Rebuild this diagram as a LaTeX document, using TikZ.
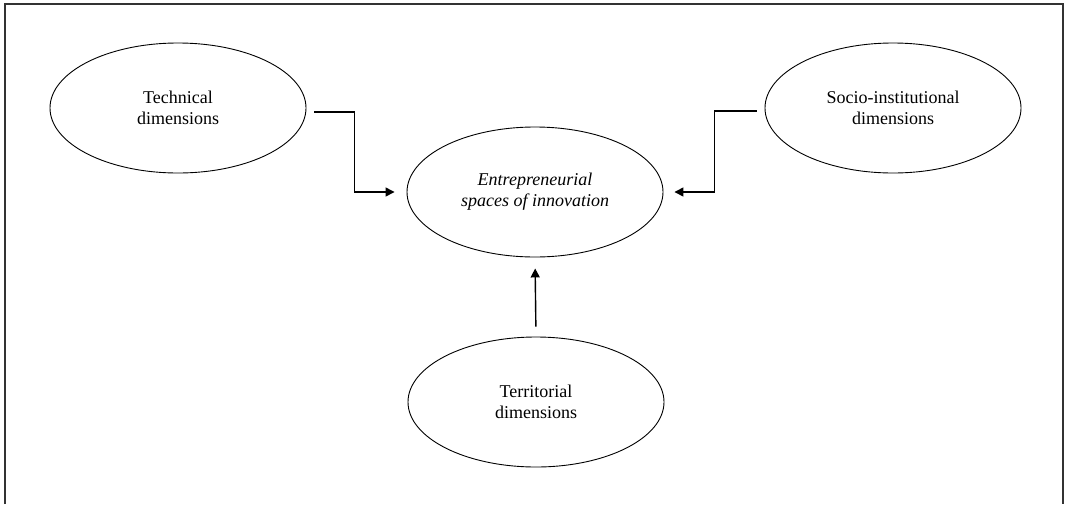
\documentclass[tikz,border=0pt]{standalone}
\usepackage{fontspec}
\setmainfont{Liberation Serif}
\usepackage{tikz}
\usetikzlibrary{shapes.geometric,arrows.meta}

\tikzset{
  dimbox/.style={ellipse,draw,line width=0.9pt,minimum width=256pt,minimum height=130pt,
    inner sep=0pt,align=center,font=\fontsize{18}{21}\selectfont},
  link/.style={line width=1.4pt,-{Triangle[length=9pt,width=9pt]}}
}

\begin{document}
\begin{tikzpicture}[x=1pt,y=-1pt]
    \useasboundingbox (0,0) rectangle (1065,504);
    \draw[line width=1.5pt,black!80] (5,504) -- (5,4) -- (1063,4) -- (1063,504);

    \node[dimbox] (tech) at (178,108) {Technical\\dimensions};
    \node[dimbox] (socio) at (893,108) {Socio-institutional\\dimensions};
    \node[dimbox] (esi) at (535,192) {\itshape Entrepreneurial\\\itshape spaces of innovation};
    \node[dimbox] (terr) at (536,402) {Territorial\\dimensions};

    \draw[link,shorten >=12pt] ([xshift=8pt,yshift=-4pt]tech.east) -- ++(40,0) |- (esi.west);
    \draw[link,shorten >=11pt] ([xshift=-8pt,yshift=-3pt]socio.west) -- ++(-42,0) |- (esi.east);
    \draw[link,shorten <=10pt,shorten >=11pt] (terr.north) -- (esi.south);
\end{tikzpicture}
\end{document}
